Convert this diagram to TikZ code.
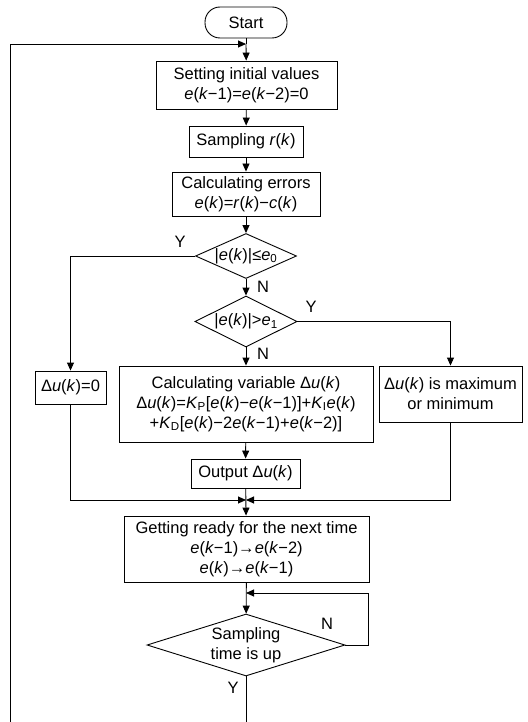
\documentclass[tikz,border=0pt]{standalone}
\usepackage{fontspec}
\setmainfont{Liberation Sans}
\usetikzlibrary{shapes.geometric,arrows.meta}
\newcommand{\vi}[1]{\textit{#1}}
\newcommand{\tsub}[1]{\textsubscript{#1}}
\tikzset{
  base/.style={font=\fontsize{16.5}{20}\selectfont, align=center, inner sep=0pt},
  boxy/.style={base, draw, line width=0.9pt, rectangle},
  term/.style={base, draw, line width=0.9pt, rounded corners=15pt, rectangle},
  dia/.style={base, draw, line width=0.9pt, diamond},
  lab/.style={font=\fontsize{16.5}{18}\selectfont, inner sep=0pt},
  conn/.style={line width=0.9pt},
  arr/.style={conn, -{Triangle[length=8pt,width=7pt]}}
}
\begin{document}
\begin{tikzpicture}[x=1pt,y=-1pt]
\useasboundingbox (0,0) rectangle (527,722);
\node[term, minimum width=82pt, minimum height=31pt] (start) at (246,22.5) {Start};
\node[boxy, minimum width=181pt, minimum height=48pt] (box1) at (246.5,85) {Setting initial values\\ \vi{e}(\vi{k}−1)=\vi{e}(\vi{k}−2)=0};
\node[boxy, minimum width=114pt, minimum height=31pt] (box2) at (246,141.5) {Sampling \vi{r}(\vi{k})};
\node[boxy, minimum width=148pt, minimum height=44pt] (box3) at (246,194) {Calculating errors\\ \vi{e}(\vi{k})=\vi{r}(\vi{k})−\vi{c}(\vi{k})};
\node[dia, minimum width=101pt, minimum height=45pt, aspect=2.2, inner sep=-2pt] (d1) at (246,256) {|\vi{e}(\vi{k})|≤\vi{e}\tsub{0}};
\node[dia, minimum width=102pt, minimum height=51pt, aspect=2, inner sep=-2pt] (d2) at (246,321.5) {|\vi{e}(\vi{k})|>\vi{e}\tsub{1}};
\node[boxy, minimum width=71pt, minimum height=33pt] (dz) at (70.5,387.5) {Δ\vi{u}(\vi{k})=0};
\node[boxy, minimum width=254pt, minimum height=76pt] (calc) at (246,404) {Calculating variable Δ\vi{u}(\vi{k})\\ Δ\vi{u}(\vi{k})=\vi{K}\tsub{P}[\vi{e}(\vi{k})−\vi{e}(\vi{k}−1)]+\vi{K}\tsub{I}\vi{e}(\vi{k})\\ +\vi{K}\tsub{D}[\vi{e}(\vi{k})−2\vi{e}(\vi{k}−1)+\vi{e}(\vi{k}−2)]};
\node[boxy, minimum width=143pt, minimum height=56pt] (dmax) at (450.5,394) {Δ\vi{u}(\vi{k}) is maximum\\ or minimum};
\node[boxy, minimum width=109pt, minimum height=29pt] (out) at (245.5,473.5) {Output Δ\vi{u}(\vi{k})};
\node[boxy, minimum width=245pt, minimum height=66pt] (gr) at (246.5,549) {Getting ready for the next time\\ \vi{e}(\vi{k}−1)→\vi{e}(\vi{k}−2)\\ \vi{e}(\vi{k})→\vi{e}(\vi{k}−1)};
\node[dia, minimum width=198pt, minimum height=62pt, aspect=3.2, inner sep=-6pt] (d3) at (246,645) {Sampling\\ time is up};
% coordinates
\coordinate (J0) at (246,44);
\coordinate (J1) at (246,500);
\coordinate (J2) at (246,593);
\coordinate (Lbot) at (10,722);
\coordinate (Cbot) at (246,722);
\coordinate (R3) at (368,645);
% labels
\node[lab] (y1) at (180,242) {Y};
\node[lab] (n1) at (263,287) {N};
\node[lab] (y2) at (311,307) {Y};
\node[lab] (n2) at (263,354) {N};
\node[lab] (n3) at (327,624) {N};
\node[lab] (y3) at (233,688) {Y};
% connectors
\draw[conn] (start) -- (J0);
\draw[arr] (J0) -- (box1);
\draw[arr] (Lbot) |- (J0);
\draw[arr] (box1) -- (box2);
\draw[arr] (box2) -- (box3);
\draw[arr] (box3) -- (d1);
\draw[arr] (d1.west) -| (dz.north);
\draw[arr] (d1) -- (d2);
\draw[arr] (d2.east) -| (dmax.north);
\draw[arr] (d2) -- (calc);
\draw[arr] (calc) -- (out);
\draw[arr] (out) -- (gr);
\draw[arr] (dz.south) |- (J1);
\draw[arr] (dmax.south) |- (J1);
\draw[arr] (gr) -- (d3);
\draw[arr] (d3.east) -- (R3) |- (J2);
\draw[conn] (d3.south) -- (Cbot);
\end{tikzpicture}
\end{document}
